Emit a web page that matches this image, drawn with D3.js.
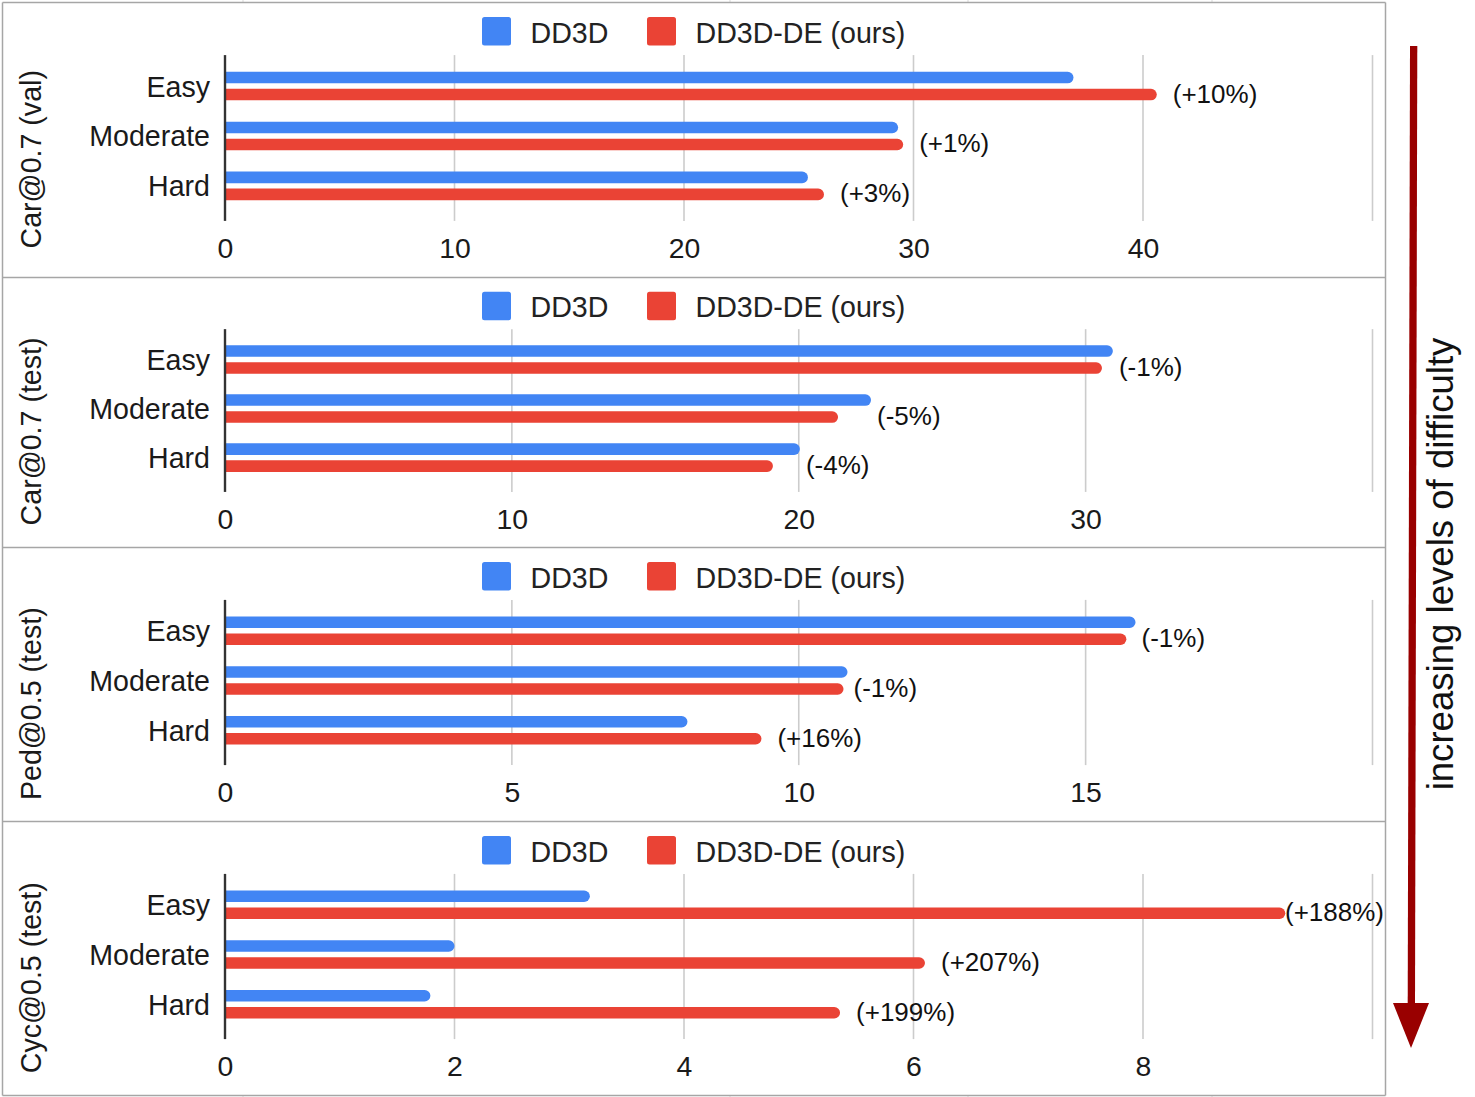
<!DOCTYPE html>
<html>
<head>
<meta charset="utf-8">
<script src="https://cdnjs.cloudflare.com/ajax/libs/d3/7.8.5/d3.min.js"></script>
<style>
  html, body { margin: 0; padding: 0; background: #fff; }
  svg { display: block; font-family: "Liberation Sans", Arial, Helvetica, sans-serif; }
</style>
</head>
<body>
<svg id="chart" width="1475" height="1097"></svg>
<script>
// ---------------- data ----------------
const categories = ["Easy", "Moderate", "Hard"];
const panelTitles = ["Car@0.7 (val)", "Car@0.7 (test)", "Ped@0.5 (test)", "Cyc@0.5 (test)"];
const seriesNames = ["DD3D", "DD3D-DE (ours)"];
const dd3dValues = [
  [36.97, 29.33, 25.40],
  [30.95, 22.52, 20.04],
  [15.87, 10.85, 8.06],
  [3.18, 2.00, 1.79]
];
const dd3dDeValues = [
  [40.60, 29.55, 26.10],
  [30.57, 21.37, 19.10],
  [15.71, 10.78, 9.35],
  [9.24, 6.10, 5.36]
];
const changeLabels = [
  ["(+10%)", "(+1%)", "(+3%)"],
  ["(-1%)", "(-5%)", "(-4%)"],
  ["(-1%)", "(-1%)", "(+16%)"],
  ["(+188%)", "(+207%)", "(+199%)"]
];
const axisMax = [50, 40, 20, 10];
const tickValues = [
  [0, 10, 20, 30, 40],
  [0, 10, 20, 30],
  [0, 5, 10, 15],
  [0, 2, 4, 6, 8]
];
const difficultyLabel = "increasing levels of difficulty";

// ---------------- layout ----------------
const W = 1475, H = 1097;
const panelTops = [2.5, 277.5, 547.5, 821.5];
const panelBottom = 1095.5;
const boxLeft = 2.5, boxRight = 1385.5;
const plotLeft = 225, plotRight = 1372.5;
const colors = ["#4285F4", "#EA4335"];
const textColor = "#1a1a1a";
const barH = 11.6;
const fontMain = 28.6;

const svg = d3.select("#chart");
svg.append("rect").attr("width", W).attr("height", H).attr("fill", "#fff");

// faint spreadsheet column marks above/below the box
[243, 730, 968, 1212].forEach(x => {
  svg.append("line").attr("x1", x).attr("x2", x).attr("y1", 0).attr("y2", 2)
    .attr("stroke", "#d9d9d9").attr("stroke-width", 1);
  svg.append("line").attr("x1", x).attr("x2", x).attr("y1", 1096).attr("y2", 1097)
    .attr("stroke", "#d9d9d9").attr("stroke-width", 1);
});

function barPath(x0, x1, yc, h) {
  const r = Math.min(h / 2, Math.max(0, x1 - x0));
  const t = yc - h / 2, b = yc + h / 2;
  return `M${x0},${t}H${x1 - r}A${r},${r} 0 0 1 ${x1 - r},${b}H${x0}Z`;
}

panelTitles.forEach((title, i) => {
  const top = panelTops[i];
  const bottom = i < panelTops.length - 1 ? panelTops[i + 1] : panelBottom;
  const k = (bottom - top) / 274.5; // vertical scale of this panel
  const oy = v => top + v * k;
  const g = svg.append("g");
  const x = d3.scaleLinear().domain([0, axisMax[i]]).range([plotLeft, plotRight]);
  const y = d3.scaleBand().domain(categories).range([oy(58.5), oy(208)]).padding(0);

  const gridTop = oy(52.5), gridBottom = oy(218);

  // gridlines
  const gridVals = tickValues[i].slice(1).concat([axisMax[i]]);
  g.selectAll("line.grid").data(gridVals).enter().append("line")
    .attr("class", "grid")
    .attr("x1", d => x(d)).attr("x2", d => x(d))
    .attr("y1", gridTop).attr("y2", gridBottom)
    .attr("stroke", "#cccccc").attr("stroke-width", 1.6);

  // x axis tick labels via d3 axis
  const axis = d3.axisBottom(x).tickValues(tickValues[i]).tickSize(0).tickPadding(0)
    .tickFormat(d3.format("d"));
  const ag = g.append("g").attr("transform", `translate(0,${oy(235)})`).call(axis);
  ag.select(".domain").remove();
  ag.selectAll("text").attr("font-size", 28.4).attr("fill", textColor)
    .attr("font-family", "'Liberation Sans', Arial, sans-serif").attr("dy", "0.71em");

  // bars
  categories.forEach((c, j) => {
    const yc = y(c) + y.bandwidth() / 2;
    const vals = [dd3dValues[i][j], dd3dDeValues[i][j]];
    vals.forEach((v, s) => {
      const cy = yc + (s === 0 ? -8.5 : 8.5);
      g.append("path").attr("d", barPath(x(0), x(v), cy, barH)).attr("fill", colors[s]);
    });
    // category label
    g.append("text").attr("x", 210).attr("y", yc + 10.5)
      .attr("text-anchor", "end").attr("font-size", fontMain).attr("fill", textColor).text(c);
    // change annotation
    const blueEnd = x(vals[0]), redEnd = x(vals[1]);
    let lx = redEnd >= blueEnd ? redEnd + 16 : blueEnd + 6;
    const t = g.append("text").attr("y", yc + 8.5 + 8).attr("font-size", 26)
      .attr("fill", "#111").text(changeLabels[i][j]);
    const tw = t.node().getComputedTextLength();
    lx = Math.min(lx, boxRight - 1.5 - tw);
    t.attr("x", lx);
  });

  // y axis line
  g.append("line").attr("x1", plotLeft).attr("x2", plotLeft)
    .attr("y1", gridTop).attr("y2", gridBottom)
    .attr("stroke", "#333").attr("stroke-width", 2.4);

  // legend
  const legendItems = [{ x: 482, tx: 530.5 }, { x: 647, tx: 695.5 }];
  seriesNames.forEach((name, s) => {
    g.append("rect").attr("x", legendItems[s].x).attr("y", oy(14.5))
      .attr("width", 29).attr("height", 28.5).attr("rx", 2.5).attr("fill", colors[s]);
    g.append("text").attr("x", legendItems[s].tx).attr("y", oy(40.3))
      .attr("font-size", fontMain).attr("fill", "#222").text(name);
  });

  // rotated panel title
  g.append("text").attr("transform", `translate(41,${oy(156.5)}) rotate(-90)`)
    .attr("text-anchor", "middle").attr("font-size", fontMain).attr("fill", textColor).text(title);

  // divider line (top of panel)
  svg.append("line").attr("x1", boxLeft).attr("x2", boxRight)
    .attr("y1", top).attr("y2", top).attr("stroke", "#a6a6a6").attr("stroke-width", 1.5);
});

// outer box sides and bottom
svg.append("line").attr("x1", boxLeft).attr("x2", boxLeft).attr("y1", panelTops[0]).attr("y2", panelBottom)
  .attr("stroke", "#a6a6a6").attr("stroke-width", 1.5);
svg.append("line").attr("x1", boxRight).attr("x2", boxRight).attr("y1", panelTops[0]).attr("y2", panelBottom)
  .attr("stroke", "#a6a6a6").attr("stroke-width", 1.5);
svg.append("line").attr("x1", boxLeft).attr("x2", boxRight).attr("y1", panelBottom).attr("y2", panelBottom)
  .attr("stroke", "#a6a6a6").attr("stroke-width", 1.5);

// difficulty arrow
const arrowColor = "#990000";
svg.append("path")
  .attr("d", "M1410,46 L1417.3,46 L1415,1004 L1407.7,1004 Z")
  .attr("fill", arrowColor);
svg.append("path")
  .attr("d", "M1393,1003 L1429,1003 L1411,1048 Z")
  .attr("fill", arrowColor);
svg.append("text").attr("transform", "translate(1453,564) rotate(-90)")
  .attr("text-anchor", "middle").attr("font-size", 36.6).attr("fill", "#111").text(difficultyLabel);
</script>
</body>
</html>
